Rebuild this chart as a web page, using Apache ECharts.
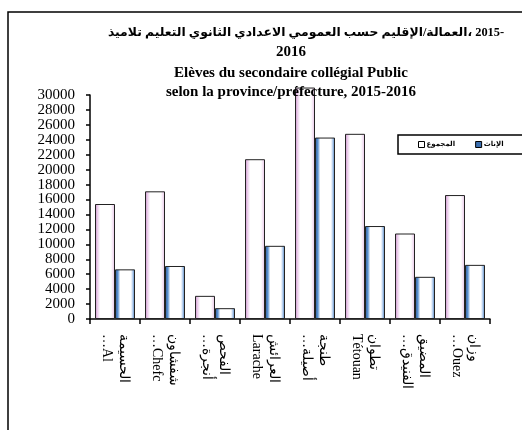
<!DOCTYPE html>
<html>
<head>
<meta charset="utf-8">
<script src="https://cdn.jsdelivr.net/npm/echarts@6/dist/echarts.min.js"></script>
<style>
html,body{margin:0;padding:0;background:#fff;}
#chart{width:522px;height:430px;}
</style>
</head>
<body>
<div id="chart"></div>
<script>
// ---- data ----
var categoriesAr = ['الحسيمة', 'شفشاون', 'الفحص', 'العرائش', 'طنجة', 'تطوان', 'المضيق', 'وزان'];
var categoriesFr = ['…Al', '…Chefc', '…أنجرة', 'Larache', '…أصيلة', 'Tétouan', '…الفنيدق', '…Ouez'];
var seriesNames = ['المجموع', 'الإناث'];
var totalValues = [15400, 17100, 3100, 21400, 31000, 24800, 11450, 16600];
var femaleValues = [6650, 7100, 1450, 9800, 24300, 12450, 5650, 7250];
var titleArWords = ['تلاميذ', 'التعليم', 'الثانوي', 'الاعدادي', 'العمومي', 'حسب', 'الإقليم', '/', 'العمالة،', '2015-'];
var titleLines = ['2016', 'Elèves du secondaire collégial Public', 'selon la province/préfecture, 2015-2016'];

// ---- chart ----
var categories = categoriesAr.map(function (a, i) { return a + '\n' + categoriesFr[i]; });

var serif = '"Liberation Serif", "Times New Roman", "DejaVu Serif", serif';
var arFont = '"Liberation Serif", "DejaVu Sans", serif';

var richTitle = titleArWords.map(function (w, i) {
  var sep = (i === 0 || w === '/' || titleArWords[i - 1] === '/') ? '' : '{s| }';
  return sep + '{w|' + w + '}';
}).join('');

var pinkFill = new echarts.graphic.LinearGradient(0, 0, 1, 0, [
  {offset: 0, color: '#c68bc6'},
  {offset: 0.12, color: '#e9c9e9'},
  {offset: 0.26, color: '#ffffff'},
  {offset: 0.8, color: '#ffffff'},
  {offset: 0.92, color: '#f1daf1'},
  {offset: 1, color: '#d7a7d7'}
]);
var blueFill = new echarts.graphic.LinearGradient(0, 0, 1, 0, [
  {offset: 0, color: '#2c5d98'},
  {offset: 0.14, color: '#5b8fd0'},
  {offset: 0.26, color: '#ffffff'},
  {offset: 0.8, color: '#ffffff'},
  {offset: 0.9, color: '#a6c4ea'},
  {offset: 1, color: '#386ca8'}
]);

var chart = echarts.init(document.getElementById('chart'), null, {renderer: 'canvas'});
var option = {
  animation: false,
  backgroundColor: '#ffffff',
  grid: {left: 90, right: 32, top: 95, bottom: 111, containLabel: false},
  legend: {
    left: 398, top: 135, width: 300,
    orient: 'horizontal',
    padding: [6, 30, 6, 20],
    itemGap: 20,
    itemWidth: 6, itemHeight: 6,
    borderColor: '#000', borderWidth: 1.5,
    icon: 'rect',
    textStyle: {fontSize: 7, fontWeight: 'bold', color: '#000', fontFamily: arFont, padding: [0, 0, 0, -3]},
    data: [
      {name: seriesNames[0], itemStyle: {color: '#ffffff', borderColor: '#000', borderWidth: 1}},
      {name: seriesNames[1], itemStyle: {color: '#3b6fb0', borderColor: '#000', borderWidth: 1}}
    ]
  },
  xAxis: {
    type: 'category',
    data: categories,
    boundaryGap: true,
    axisLine: {show: true, lineStyle: {color: '#000', width: 1.5}},
    axisTick: {show: true, length: 5, alignWithLabel: false, lineStyle: {color: '#000', width: 1.5}},
    axisLabel: {
      interval: 0, rotate: -90, margin: 15,
      fontSize: 14, lineHeight: 17, color: '#000', fontFamily: serif
    },
    splitLine: {show: false}
  },
  yAxis: {
    type: 'value',
    min: 0, max: 30000, interval: 2000,
    axisLine: {show: true, lineStyle: {color: '#000', width: 1.5}},
    axisTick: {show: true, inside: false, length: 4, lineStyle: {color: '#000', width: 1.5}},
    axisLabel: {fontSize: 15, color: '#000', fontFamily: serif, margin: 15,
      formatter: function (v) { return String(v); }},
    splitLine: {show: false}
  },
  series: [
    {
      name: seriesNames[0], type: 'bar', data: totalValues,
      barWidth: 20, barGap: '0%', clip: false,
      itemStyle: {color: pinkFill, borderColor: '#222', borderWidth: 1}
    },
    {
      name: seriesNames[1], type: 'bar', data: femaleValues,
      barWidth: 20, barGap: '0%', clip: false,
      itemStyle: {color: blueFill, borderColor: '#222', borderWidth: 1}
    }
  ],
  graphic: [
    {type: 'rect', z: 0, silent: true, shape: {x: 8, y: 12, width: 700, height: 700},
      style: {fill: 'none', stroke: '#000', lineWidth: 1.5}},
    {type: 'text', z: 100, x: 306, y: 33, silent: true,
      style: {text: richTitle, fill: '#000', align: 'center', verticalAlign: 'middle',
        rich: {
          w: {fontSize: 12.4, fontWeight: 'bold', fontFamily: arFont, fill: '#000'},
          s: {fontSize: 12.4, fontWeight: 'bold', fontFamily: arFont, fill: '#000'}
        }}},
    {type: 'text', z: 100, x: 291, y: 52, silent: true,
      style: {text: titleLines[0], font: 'bold 15px ' + serif, fill: '#000', align: 'center', verticalAlign: 'middle'}},
    {type: 'text', z: 100, x: 291, y: 73, silent: true,
      style: {text: titleLines[1], font: 'bold 15px ' + serif, fill: '#000', align: 'center', verticalAlign: 'middle'}},
    {type: 'text', z: 100, x: 291, y: 92, silent: true,
      style: {text: titleLines[2], font: 'bold 15px ' + serif, fill: '#000', align: 'center', verticalAlign: 'middle'}}
  ]
};
chart.setOption(option);
</script>
</body>
</html>
